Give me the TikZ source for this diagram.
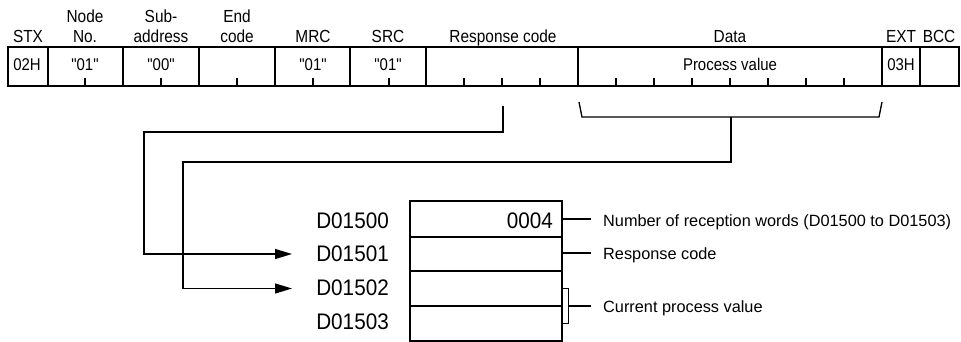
\documentclass[tikz,border=0pt]{standalone}
\usepackage{fontspec}
\setmainfont{Liberation Sans}
\newfontfamily\hfont[FakeStretch=0.88]{Liberation Sans}
\newfontfamily\dfont[FakeStretch=0.92]{Liberation Sans}
\usetikzlibrary{arrows.meta}
\begin{document}
\begin{tikzpicture}[x=1pt,y=-1pt,
  hdr/.style={font=\hfont\fontsize{17.5}{19}\selectfont, inner sep=0pt, anchor=base},
  cell/.style={font=\hfont\fontsize{17}{19}\selectfont, inner sep=0pt, anchor=base},
  dlab/.style={font=\dfont\fontsize{22.5}{25}\selectfont, inner sep=0pt, anchor=base east},
  rlab/.style={font=\fontsize{16.3}{19}\selectfont, inner sep=0pt, anchor=base west},
  frame/.style={line width=2pt},
  tick/.style={line width=1.5pt},
  conn/.style={line width=1.3pt},
  arr/.style={conn, -{Triangle[length=17pt,width=10pt]}}]
\useasboundingbox (0,0) rectangle (961,342);

% ---------- top frame ----------
\draw[frame] (8,47) rectangle (958.5,86);
\foreach \x in {47.7,122.7,198.7,274.7,350,426,578,882,920}
  \draw[frame] (\x,47) -- (\x,86);
\foreach \x in {85,161,237,313,389,464,502,540,616,654,692,730,768,806,844}
  \draw[tick] (\x,78) -- (\x,86);

% header labels
\node[hdr] (hStx)  at (28,43)  {STX};
\node[hdr] (hNode1) at (85,23) {Node};
\node[hdr] (hNode2) at (85,43) {No.};
\node[hdr] (hSub1) at (161,23) {Sub-};
\node[hdr] (hSub2) at (161,43) {address};
\node[hdr] (hEnd1) at (237,23) {End};
\node[hdr] (hEnd2) at (237,43) {code};
\node[hdr] (hMrc)  at (313,43) {MRC};
\node[hdr] (hSrc)  at (388,43) {SRC};
\node[hdr] (hResp) at (503,43) {Response code};
\node[hdr] (hData) at (730,43) {Data};
\node[hdr] (hExt)  at (901,43) {EXT};
\node[hdr] (hBcc)  at (939,43) {BCC};

% cell contents
\node[cell] (c02) at (27,71)  {02H};
\node[cell] (cN)  at (85,71)  {"01"};
\node[cell] (cS)  at (161,71) {"00"};
\node[cell] (cM)  at (313,71) {"01"};
\node[cell] (cR)  at (388,71) {"01"};
\node[cell] (cPV) at (730,71) {Process value};
\node[cell] (c03) at (901,71) {03H};

% ---------- bracket under data ----------
\coordinate (bl) at (579,102);
\coordinate (br) at (882,102);
\coordinate (dc) at (731,117);
\draw[conn] (bl) -- (582,117) -- (879,117) -- (br);

% ---------- connectors ----------
\coordinate (rc) at (503,106);
\coordinate (j1) at (144,132);
\coordinate (j2) at (183,162);
\coordinate (tip1) at (292,254);
\coordinate (tip2) at (292,288.5);
\draw[arr] (rc) |- (j1) |- (tip1);
\draw[arr] (dc) |- (j2) |- (tip2);

% ---------- bottom table ----------
\draw[frame] (410,201) rectangle (562,341);
\draw[frame] (410,237) -- (563,237);
\draw[frame] (410,271) -- (563,271);
\draw[line width=1.4pt] (410,306) -- (563,306);

\node[dlab] (d0) at (389,228) {D01500};
\node[dlab] (d1) at (389,261) {D01501};
\node[dlab] (d2) at (389,295) {D01502};
\node[dlab] (d3) at (389,329.5) {D01503};
\node[dlab] (v0) at (553,228) {0004};

% right labels
\node[rlab] (l0) at (603,226) {Number of reception words (D01500 to D01503)};
\node[rlab] (l1) at (603,259) {Response code};
\node[rlab] (l2) at (603,312) {Current process value};

\draw[conn] (562,219) -- ([xshift=-12pt]l0.west |- 0,219);
\draw[conn] (562,253) -- ([xshift=-12pt]l1.west |- 0,253);
\draw[line width=1pt] (562,288) -- (568,288) -- (568,323) -- (562,323);
\draw[conn] (568,306) -- ([xshift=-12pt]l2.west |- 0,306);
\end{tikzpicture}
\end{document}
